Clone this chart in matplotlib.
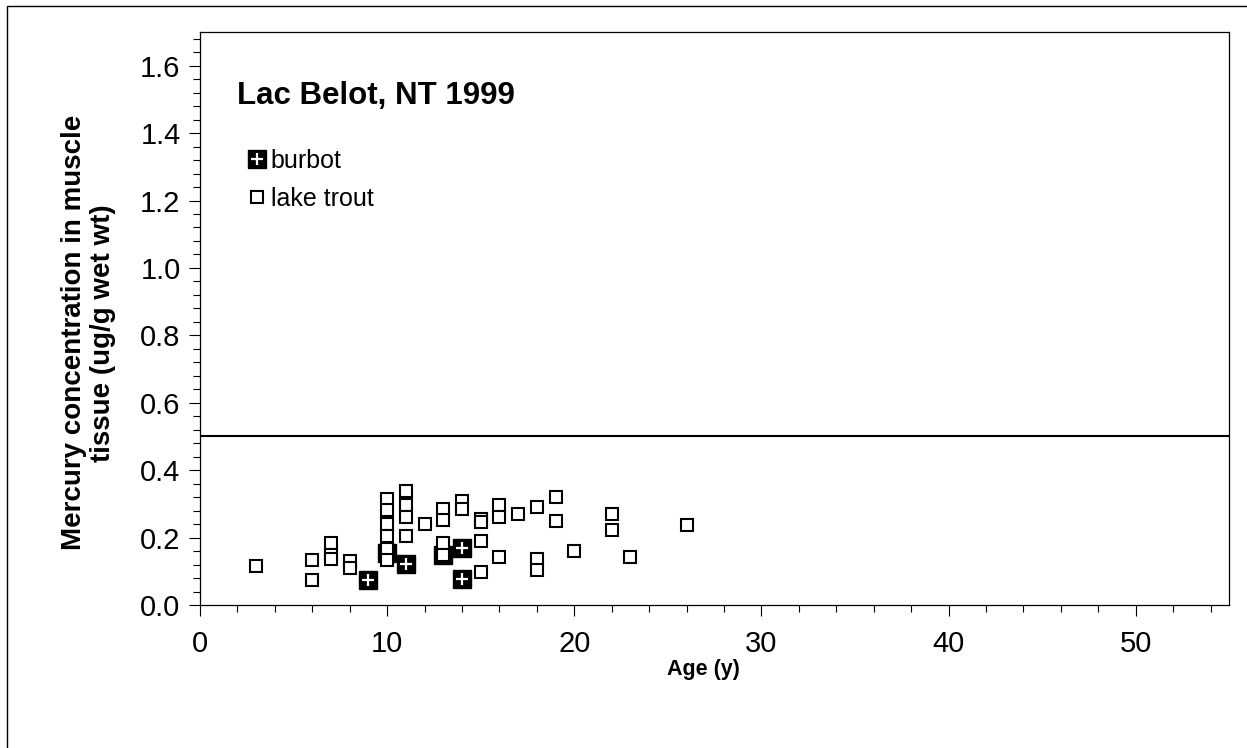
import matplotlib
matplotlib.use("Agg")
import matplotlib.pyplot as plt
from matplotlib.legend_handler import HandlerTuple
from matplotlib.ticker import MultipleLocator, FormatStrFormatter

plt.rcParams["font.family"] = ["Liberation Sans", "DejaVu Sans"]

# ── Data ──────────────────────────────────────────────────────────────────────
burbot_age = [9, 10, 11, 13, 14, 14]
burbot_hg = [0.075, 0.155, 0.122, 0.147, 0.169, 0.077]

trout_age = [3, 6, 6, 7, 7, 7, 8, 8,
             10, 10, 10, 10, 10, 10, 11, 11, 11, 11, 12,
             13, 13, 13, 13, 14, 14, 15, 15, 15, 15,
             16, 16, 16, 17, 18, 18, 18, 19, 19, 20, 22, 22, 23, 26]
trout_hg = [0.117, 0.134, 0.075, 0.184, 0.147, 0.135, 0.130, 0.110,
            0.313, 0.283, 0.241, 0.206, 0.167, 0.134, 0.338, 0.298, 0.261, 0.206, 0.241,
            0.285, 0.253, 0.184, 0.149, 0.308, 0.285, 0.255, 0.245, 0.189, 0.099,
            0.298, 0.261, 0.141, 0.271, 0.290, 0.136, 0.104, 0.320, 0.248, 0.159, 0.271, 0.223, 0.141, 0.236]

guideline = 0.5
title = "Lac Belot, NT 1999"

# ── Figure ────────────────────────────────────────────────────────────────────
fig = plt.figure(figsize=(12.47, 7.48), dpi=100)
ax = fig.add_axes([0.1604, 0.1912, 0.8254, 0.766])

# frame around the whole chart (left/top edges visible)
fig.patches.append(plt.Rectangle((0.0056, -0.01), 1.2, 1.0019, transform=fig.transFigure,
                                 fill=False, edgecolor="black", linewidth=1.0, zorder=0))

sq, = ax.plot(burbot_age, burbot_hg, ls="none", marker="s", ms=13.5, mfc="black", mec="black", zorder=3)
pl, = ax.plot(burbot_age, burbot_hg, ls="none", marker="+", ms=8, mew=1.6, color="white", zorder=4)
lt, = ax.plot(trout_age, trout_hg, ls="none", marker="s", ms=8, mfc="white", mec="black", mew=1.5, zorder=5)

ax.axhline(guideline, color="black", lw=1.5, zorder=2)

ax.set_xlim(0, 55)
ax.set_ylim(0, 1.7)
ax.xaxis.set_major_locator(MultipleLocator(10))
ax.xaxis.set_minor_locator(MultipleLocator(2))
ax.yaxis.set_major_locator(MultipleLocator(0.2))
ax.yaxis.set_minor_locator(MultipleLocator(0.04))
ax.yaxis.set_major_formatter(FormatStrFormatter("%.1f"))
ax.tick_params(which="major", direction="out", length=8, width=0.8, labelsize=21, pad=6)
ax.tick_params(which="minor", direction="out", length=5, width=0.8)
ax.tick_params(axis="x", pad=10)
for s in ax.spines.values():
    s.set_linewidth(0.9)

ax.set_xlabel("Age (y)", fontsize=15.5, fontweight="bold")
ax.xaxis.set_label_coords(0.489, -0.095)
ax.set_ylabel("Mercury concentration in muscle\ntissue (ug/g wet wt)", fontsize=20,
              fontweight="bold", linespacing=1.12)
ax.yaxis.set_label_coords(-0.082, 0.475)

ax.text(0.036, 0.874, title, transform=ax.transAxes, fontsize=22.5, fontweight="bold",
        va="baseline", ha="left")

ax.legend([(sq, pl), lt], ["burbot", "lake trout"], handler_map={tuple: HandlerTuple(ndivide=1)},
          loc="upper left", bbox_to_anchor=(0.037, 0.813), frameon=False, fontsize=18,
          handlelength=0.7, handletextpad=0.2, labelspacing=0.55, borderaxespad=0)

fig.savefig("out.png", dpi=100)
